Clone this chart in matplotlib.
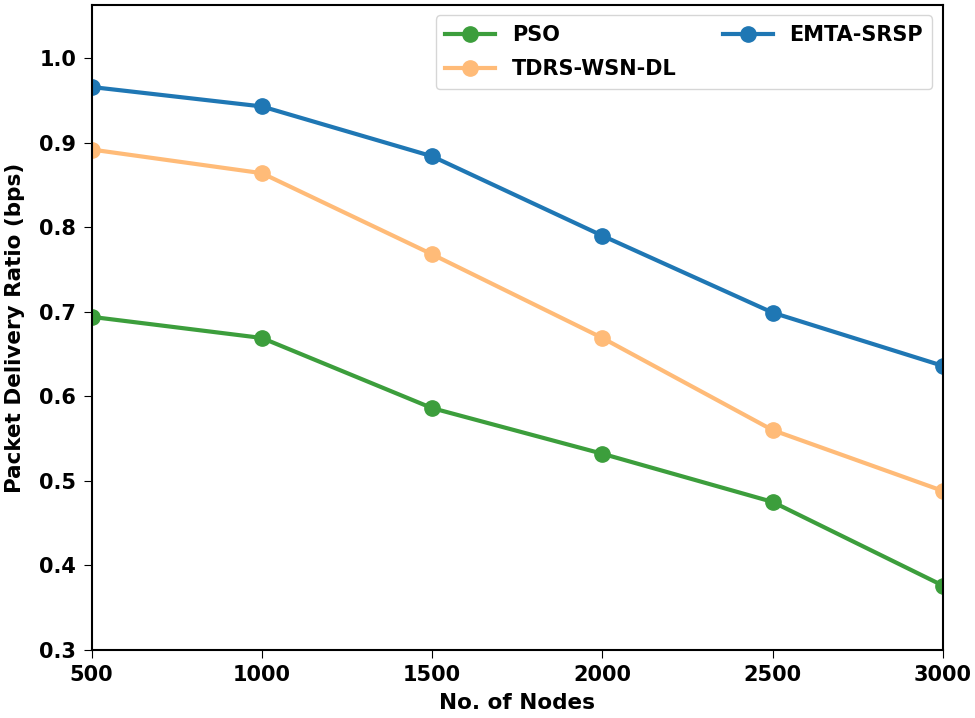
import numpy as np
import matplotlib
matplotlib.use("Agg")
import matplotlib.pyplot as plt

nodes = [500, 1000, 1500, 2000, 2500, 3000]
pso = [0.694, 0.669, 0.586, 0.532, 0.475, 0.376]
tdrs = [0.892, 0.864, 0.768, 0.669, 0.560, 0.488]
emta = [0.966, 0.943, 0.884, 0.790, 0.699, 0.636]

plt.rcParams['font.weight'] = 'bold'
plt.rcParams['axes.labelweight'] = 'bold'

fig = plt.figure(figsize=(9.75, 7.18), dpi=100)
ax = fig.add_axes([0.094, 0.095, 0.873, 0.898])

ax.plot(nodes, pso, color='#3c9e3c', marker='o', lw=3, ms=11, label='PSO')
ax.plot(nodes, tdrs, color='#ffbb78', marker='o', lw=3, ms=11, label='TDRS-WSN-DL')
ax.plot(nodes, emta, color='#1f77b4', marker='o', lw=3, ms=11, label='EMTA-SRSP')

ax.set_xlim(500, 3000)
ax.set_ylim(0.3, 1.063)
ax.set_xticks(nodes)
ax.set_yticks([0.3, 0.4, 0.5, 0.6, 0.7, 0.8, 0.9, 1.0])
ax.tick_params(labelsize=15, length=6, pad=5)
ax.set_xlabel("No. of Nodes", fontsize=15.5, labelpad=6)
ax.set_ylabel("Packet Delivery Ratio (bps)", fontsize=15.5, labelpad=10)
for s in ax.spines.values():
    s.set_linewidth(1.5)

ax.legend(loc='upper right', ncol=2, prop={'weight': 'bold', 'size': 15},
          labelspacing=0.7, columnspacing=2.2, handlelength=2.4,
          handletextpad=0.8, borderpad=0.45)

fig.savefig("out.png", dpi=100)
